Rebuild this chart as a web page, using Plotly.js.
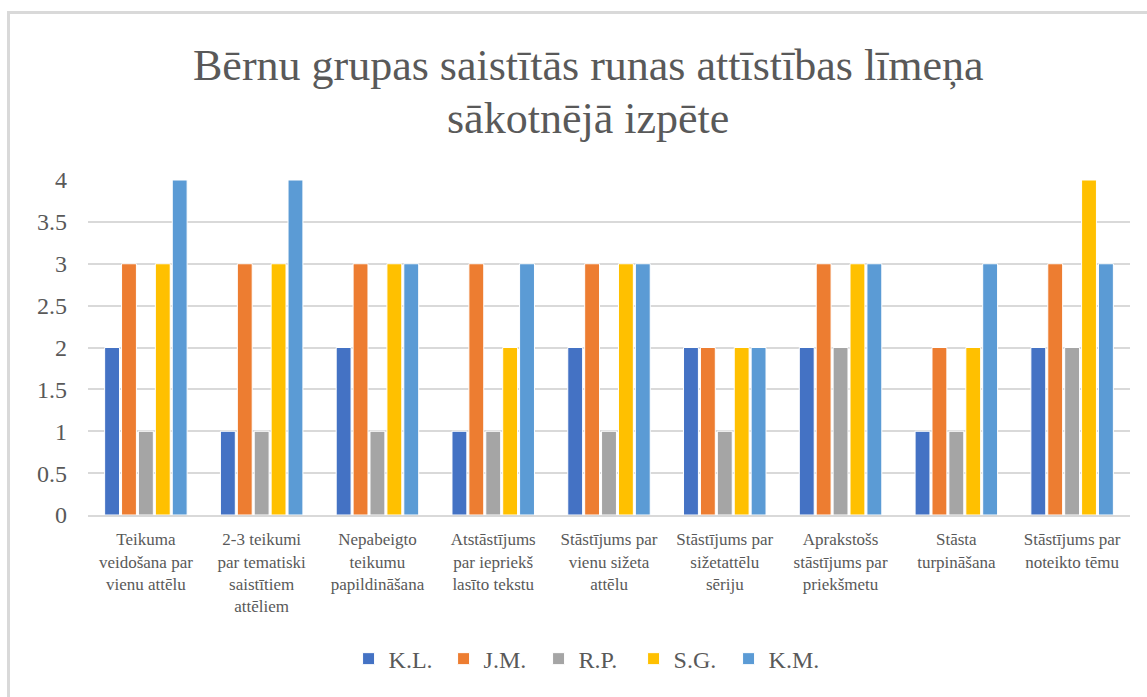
<!DOCTYPE html>
<html>
<head>
<meta charset="utf-8">
<script src="https://cdn.plot.ly/plotly-3.0.1.min.js"></script>
<style>
  html, body { margin: 0; padding: 0; background: #fff; }
  #wrap { position: relative; width: 1147px; height: 697px; }
  #chart { width: 1147px; height: 697px; }
  #frame { position: absolute; left: 7px; top: 11px; width: 1160px; height: 720px;
           border-left: 3px solid #d9d9d9; border-top: 3px solid #d9d9d9; pointer-events: none; }
</style>
</head>
<body>
<div id="wrap">
  <div id="chart"></div>
  <div id="frame"></div>
</div>
<script>
const titleLines = ["Bērnu grupas saistītās runas attīstības līmeņa", "sākotnējā izpēte"];
const categories = [
  "Teikuma<br>veidošana par<br>vienu attēlu",
  "2-3 teikumi<br>par tematiski<br>saistītiem<br>attēliem",
  "Nepabeigto<br>teikumu<br>papildināšana",
  "Atstāstījums<br>par iepriekš<br>lasīto tekstu",
  "Stāstījums par<br>vienu sižeta<br>attēlu",
  "Stāstījums par<br>sižetattēlu<br>sēriju",
  "Aprakstošs<br>stāstījums par<br>priekšmetu",
  "Stāsta<br>turpināšana",
  "Stāstījums par<br>noteikto tēmu"
];
const seriesNames = ["K.L.", "J.M.", "R.P.", "S.G.", "K.M."];
const KL = [2, 1, 2, 1, 2, 2, 2, 1, 2];
const JM = [3, 3, 3, 3, 3, 2, 3, 2, 3];
const RP = [1, 1, 1, 1, 1, 1, 2, 1, 2];
const SG = [3, 3, 3, 2, 3, 2, 3, 2, 4];
const KM = [4, 4, 3, 3, 3, 2, 3, 3, 3];
const seriesValues = [KL, JM, RP, SG, KM];
const colors = ["#4472C4", "#ED7D31", "#A5A5A5", "#FFC000", "#5B9BD5"];
const yTicks = [0, 0.5, 1, 1.5, 2, 2.5, 3, 3.5, 4];

const serif = "Liberation Serif";

const traces = seriesNames.map((name, i) => ({
  type: "bar",
  name: name,
  x: categories,
  y: seriesValues[i],
  marker: { color: colors[i], line: { color: "#ffffff", width: 1 } },
  hoverinfo: "none"
}));

const titleY = [1.343, 1.185];

const layout = {
  width: 1147,
  height: 697,
  font: { family: serif, color: "#595959" },
  margin: { l: 88, r: 17, t: 180, b: 182 },
  paper_bgcolor: "rgba(0,0,0,0)",
  plot_bgcolor: "#ffffff",
  barmode: "group",
  bargap: 0.27,
  bargroupgap: 0.12,
  annotations: titleLines.map((t, i) => ({
    text: t,
    xref: "paper", yref: "paper",
    x: 0.48, y: titleY[i],
    xanchor: "center", yanchor: "middle",
    showarrow: false,
    font: { family: serif, size: 44, color: "#595959" }
  })),
  xaxis: {
    type: "category",
    showgrid: false,
    showline: true,
    linecolor: "#d9d9d9",
    linewidth: 2,
    ticks: "",
    tickangle: 0,
    ticklabelstandoff: 8,
    tickfont: { family: serif, size: 17, color: "#595959" },
    automargin: false
  },
  yaxis: {
    range: [0, 4],
    tickvals: yTicks,
    ticktext: yTicks.map(v => String(v)),
    showgrid: true,
    gridcolor: "#d9d9d9",
    gridwidth: 2,
    zeroline: false,
    showline: false,
    ticks: "",
    ticklen: 0,
    ticklabelstandoff: 20,
    tickfont: { family: serif, size: 24, color: "#595959" },
    automargin: false
  },
  showlegend: true,
  legend: {
    orientation: "h",
    x: 0.478, xanchor: "center",
    y: -0.43, yanchor: "middle",
    font: { family: serif, size: 24, color: "#595959" },
    itemwidth: 30,
    entrywidth: 50,
    entrywidthmode: "pixels",
    traceorder: "normal"
  }
};

Plotly.newPlot("chart", traces, layout, { displayModeBar: false, staticPlot: true });
</script>
</body>
</html>
